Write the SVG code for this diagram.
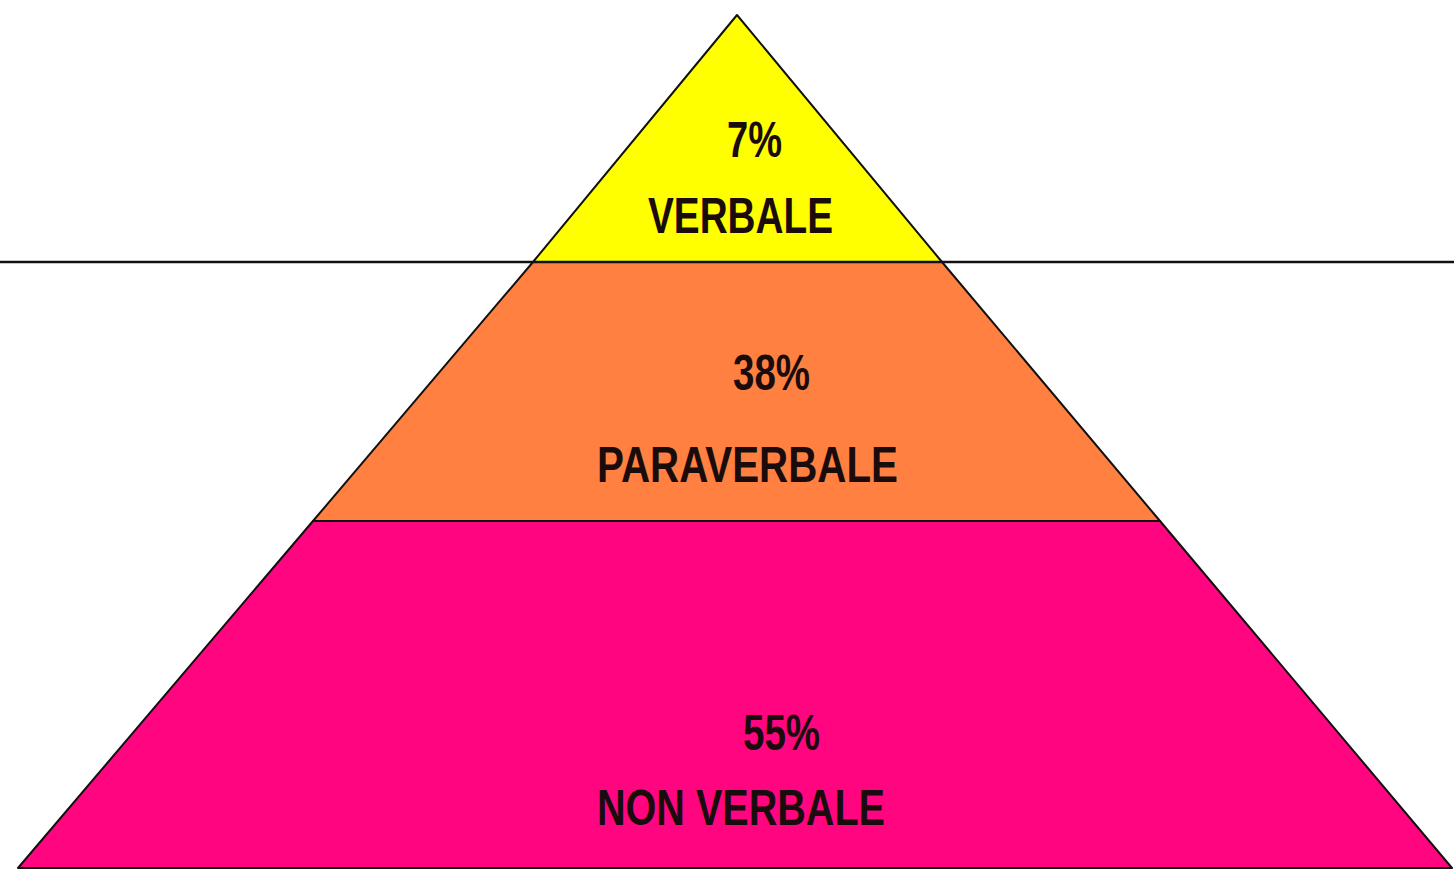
<svg xmlns="http://www.w3.org/2000/svg" width="1454" height="872" viewBox="0 0 1454 872">
<style>
.lvl{stroke:#111;stroke-width:2;stroke-linejoin:round}
.t{font-family:"Liberation Sans",Arial,sans-serif;font-size:50px;font-weight:bold;fill:#1a0c0c}
</style>
<rect width="1454" height="872" fill="#ffffff"/>
<g id="nonverbale">
<polygon class="lvl" points="313,521 1160,521 1452,868 18,868" fill="#ff0580"/>
<text class="t" x="743" y="750" textLength="77" lengthAdjust="spacingAndGlyphs">55%</text>
<text class="t" x="597" y="825" textLength="288" lengthAdjust="spacingAndGlyphs">NON VERBALE</text>
</g>
<g id="paraverbale">
<polygon class="lvl" points="533,262 942,262 1160,521 313,521" fill="#ff8040"/>
<text class="t" x="733" y="390" textLength="77" lengthAdjust="spacingAndGlyphs">38%</text>
<text class="t" x="597" y="482" textLength="301" lengthAdjust="spacingAndGlyphs">PARAVERBALE</text>
</g>
<g id="verbale">
<polygon class="lvl" points="737,15 942,262 533,262" fill="#ffff00"/>
<text class="t" x="727" y="157" textLength="55" lengthAdjust="spacingAndGlyphs">7%</text>
<text class="t" x="648" y="233" textLength="185" lengthAdjust="spacingAndGlyphs">VERBALE</text>
</g>
<g id="connectors">
<line x1="0" y1="262" x2="1454" y2="262" stroke="#111" stroke-width="2.5"/>
</g>
</svg>
